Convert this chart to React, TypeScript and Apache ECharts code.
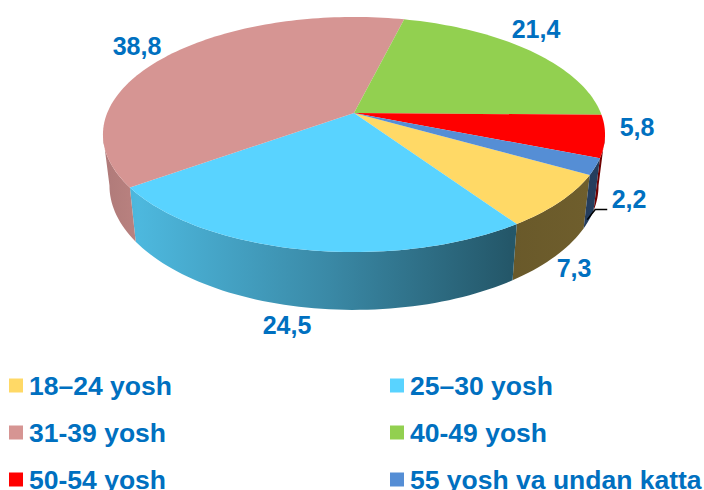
import React, { useEffect, useRef } from "react";
import * as echarts from "echarts";

// ---- data
const categories = ["18–24 yosh", "25–30 yosh", "31-39 yosh", "40-49 yosh", "50-54 yosh", "55 yosh va undan katta"];
const values = [7.3, 24.5, 38.8, 21.4, 5.8, 2.2];
const topColors = ["#FFD966", "#59D3FF", "#D69593", "#92D050", "#FF0000", "#558ED5"];

// ---- layout (kept apart from the data)
const labelXY: [number, number][] = [[574, 268], [287, 325], [137, 46], [536, 29], [637, 127], [629, 199]];
const LEADER_INDEX = 5;
const DEG = Math.PI / 180;
const START = 29.7;
const SIDE_FROM = 10.5;
const SIDE_TO = 169.5;
const P = { cx: 354, k: 0.183, topY: 113, topA: 113.6, topB: 246.8, botY: 163, botA: 120, botB: 240.4 };

const project = (tDeg: number, bottom: boolean): number[] => {
  const X = Math.cos(tDeg * DEG);
  const Z = Math.sin(tDeg * DEG);
  const w = 1 - P.k * Z;
  return bottom
    ? [P.cx + (P.botB * X) / w, P.botY + (P.botA * Z) / w]
    : [P.cx + (P.topB * X) / w, P.topY + (P.topA * Z) / w];
};

const arc = (a: number, b: number, bottom: boolean): number[][] => {
  const n = Math.max(2, Math.ceil((b - a) / 1.5));
  const pts: number[][] = [];
  for (let i = 0; i <= n; i++) pts.push(project(a + ((b - a) * i) / n, bottom));
  return pts;
};

const shade = (hex: string, f: number): string => {
  const n = parseInt(hex.slice(1), 16);
  const c = [(n >> 16) & 255, (n >> 8) & 255, n & 255].map((v) => Math.round(v * f));
  return `rgb(${c[0]},${c[1]},${c[2]})`;
};

const sideFill = (hex: string) => ({
  type: "linear",
  global: true,
  x: 103,
  y: 0,
  x2: 605,
  y2: 0,
  colorStops: [
    { offset: 0, color: shade(hex, 0.82) },
    { offset: 0.07, color: shade(hex, 0.87) },
    { offset: 0.45, color: shade(hex, 0.65) },
    { offset: 0.81, color: shade(hex, 0.41) },
    { offset: 1, color: shade(hex, 0.44) },
  ],
});

const total = values.reduce((s, v) => s + v, 0);
const startAngle = (idx: number): number =>
  START + (values.slice(0, idx).reduce((s, v) => s + v, 0) / total) * 360;

const renderSlice = (idx: number) => (_params: any, api: any) => {
  const value = api.value(0);
  const a = startAngle(idx);
  const b = a + (value / total) * 360;
  const color = topColors[idx];
  const children: any[] = [];

  // visible part of the outer wall
  [0, 360].forEach((shift) => {
    const from = Math.max(a, SIDE_FROM + shift);
    const to = Math.min(b, SIDE_TO + shift);
    if (to > from) {
      children.push({
        type: "polygon",
        z2: 1,
        shape: { points: [...arc(from, to, false), ...arc(from, to, true).reverse()] },
        style: { fill: sideFill(color), stroke: "none" },
      });
    }
  });

  // top face
  children.push({
    type: "polygon",
    z2: 2,
    shape: { points: [[P.cx, P.topY], ...arc(a, b, false)] },
    style: { fill: color, stroke: "none" },
  });

  if (idx === LEADER_INDEX) {
    const [x, y] = project((a + b) / 2, true);
    children.push({
      type: "polyline",
      z2: 3,
      shape: { points: [[x - 2, y], [x + 6, y - 10], [x + 18, y - 10]] },
      style: { stroke: "#000000", lineWidth: 1.5, fill: "none" },
    });
  }

  children.push({
    type: "text",
    z2: 4,
    x: labelXY[idx][0],
    y: labelXY[idx][1],
    style: {
      text: String(value).replace(".", ","),
      fill: "#0070C0",
      font: 'bold 25px "Liberation Sans", Arial, sans-serif',
      align: "center",
      verticalAlign: "middle",
    },
  });

  return { type: "group", children };
};

const legendBase = {
  orient: "vertical",
  top: 372,
  height: 140,
  itemWidth: 14,
  itemHeight: 14,
  itemGap: 20,
  icon: "rect",
  selectedMode: false,
  padding: 0,
  textStyle: {
    color: "#0070C0",
    fontFamily: '"Liberation Sans", Arial, sans-serif',
    fontWeight: "bold",
    fontSize: 26.5,
    lineHeight: 26,
    padding: [0, 0, 0, 1],
  },
};

export default function App() {
  const ref = useRef<HTMLDivElement>(null);
  useEffect(() => {
    document.body.style.margin = "0";
    const chart = echarts.init(ref.current!, undefined, { renderer: "svg" });
    chart.setOption({
      animation: false,
      backgroundColor: "#FFFFFF",
      legend: [
        { ...legendBase, left: 9, data: categories.filter((_, i) => i % 2 === 0) },
        { ...legendBase, left: 390, data: categories.filter((_, i) => i % 2 === 1) },
      ],
      series: categories.map((name, idx) => ({
        type: "custom",
        name,
        coordinateSystem: "none",
        silent: true,
        clip: false,
        itemStyle: { color: topColors[idx] },
        data: [[values[idx]]],
        renderItem: renderSlice(idx),
      })),
    });
    return () => chart.dispose();
  }, []);
  return <div ref={ref} style={{ width: 704, height: 490 }} />;
}
